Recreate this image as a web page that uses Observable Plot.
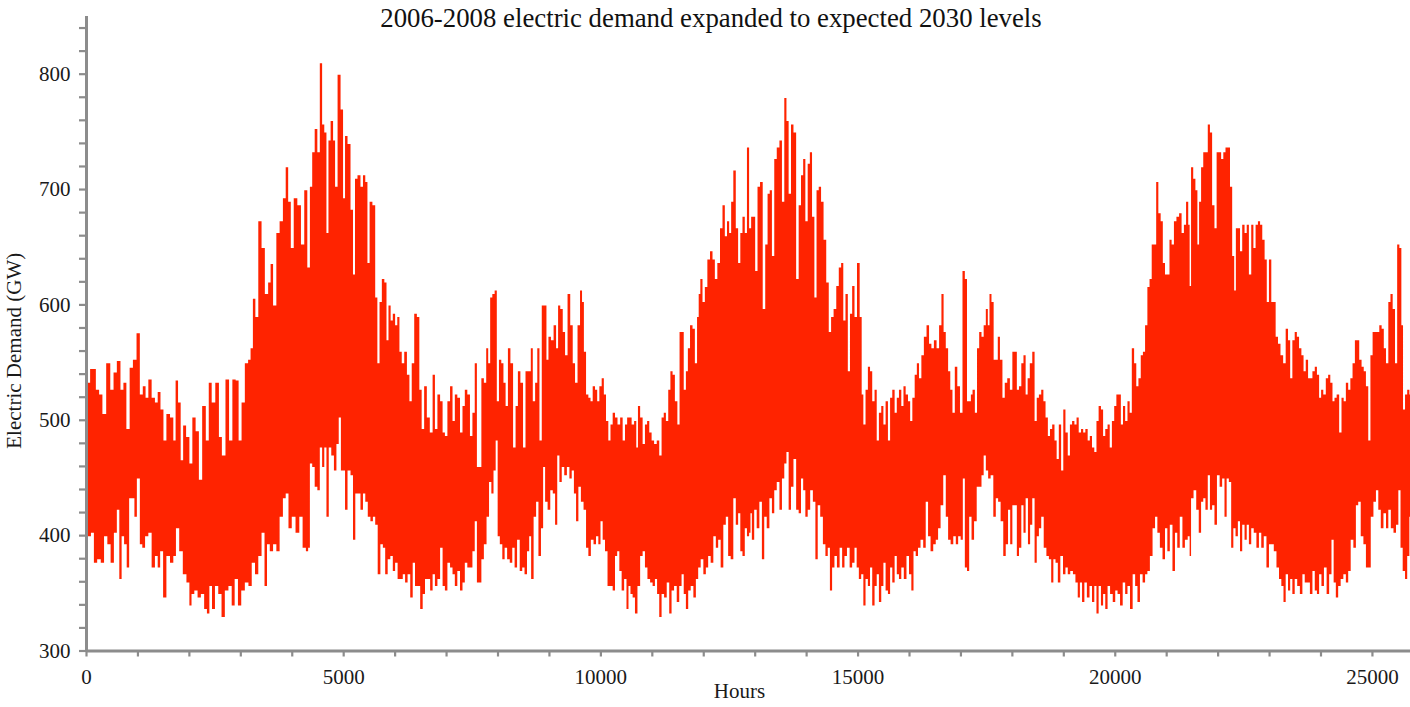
<!DOCTYPE html>
<html><head><meta charset="utf-8">
<script src="https://cdn.jsdelivr.net/npm/d3@7"></script>
<script src="https://cdn.jsdelivr.net/npm/@observablehq/plot@0.6"></script>
<style>
html,body{margin:0;padding:0;background:#fff;}
#wrap{position:relative;width:1410px;height:707px;overflow:hidden;}
#title{position:absolute;left:6px;top:5px;width:1410px;text-align:center;font-family:"Liberation Serif","Times New Roman",serif;font-size:26.8px;line-height:26px;color:#111;z-index:2;white-space:nowrap;}
#wrap svg [aria-label="x-axis tick"], #wrap svg [aria-label="y-axis tick"]{stroke:#8c8c8c;stroke-width:2.2px;}
#wrap svg [aria-label="x-axis"] line, #wrap svg [aria-label="y-axis"] line{stroke:#8c8c8c;stroke-width:2.2px;}
#wrap svg [aria-label="x-axis"] path.domain, #wrap svg [aria-label="y-axis"] path.domain{display:none;}
</style></head>
<body><div id="wrap"><div id="title"></div></div>
<script>
const titleText = "2006-2008 electric demand expanded to expected 2030 levels";
const yLabel = "Electric Demand (GW)";
const xLabel = "Hours";

// Upper envelope of the hourly demand trace: [hour, GW]
const upperEnvelope = [
[0,532],[160,544],[223,526],[287,522],[351,505],[434,549],[510,526],[561,541],[638,551],[702,526],[753,532],[817,492],[880,545],[944,552],[1021,575],[1072,522],[1136,529],[1180,519],[1244,535],[1308,519],[1372,515],[1416,524],[1480,509],[1531,482],[1595,505],[1672,502],[1723,482],[1761,534],[1818,515],[1863,465],[1914,495],[1978,485],[2042,462],[2093,502],[2169,490],[2220,448],[2297,512],[2361,482],[2412,532],[2475,515],[2552,532],[2616,485],[2667,469],[2756,535],[2807,482],[2884,535],[2935,534],[2999,482],[3050,515],[3126,549],[3177,552],[3222,562],[3267,605],[3318,589],[3381,672],[3445,649],[3509,609],[3573,619],[3605,635],[3669,599],[3732,662],[3796,672],[3860,692],[3905,719],[3956,689],[4007,649],[4070,692],[4147,686],[4211,652],[4275,699],
[4330,632],[4375,702],[4420,732],[4472,752],[4523,732],[4568,809],[4613,756],[4652,749],[4697,662],[4730,742],[4781,759],[4826,742],[4859,702],[4923,799],[4975,769],[5020,692],[5052,746],[5117,739],[5168,682],[5213,626],[5246,709],[5310,712],[5362,702],[5407,712],[5452,706],[5491,636],[5536,689],[5600,686],[5645,606],[5684,549],[5729,602],[5774,622],[5826,619],[5858,569],[5903,599],[5942,586],[5987,592],[6032,582],[6071,589],[6116,559],[6161,549],[6213,559],[6265,539],[6310,516],[6355,549],[6407,592],[6458,589],[6503,526],[6548,492],[6600,529],[6652,502],[6716,489],[6761,539],[6806,492],[6858,522],[6910,516],[6955,489],[7000,486],[7052,516],[7103,529],[7148,499],[7193,522],[7245,519],[7297,489],[7342,512],[7387,526],[7439,522],[7490,486],[7535,506],[7580,549],[7619,459],[7664,459],[7709,536],[7761,532],[7800,562],[7838,549],[7877,606],[7922,609],[7967,612],[8006,516],[8051,552],[8096,549],[8135,532],[8180,512],[8225,562],[8277,549],[8329,476],[8374,512],[8419,542],[8471,532],[8522,476],[8567,542],[8632,542],
[8663,562],[8709,516],[8754,532],[8793,562],[8838,482],[8883,599],[8935,599],[8968,552],[9013,572],[9065,569],[9116,582],[9162,562],[9194,599],[9246,596],[9291,576],[9336,556],[9388,609],[9440,582],[9485,549],[9530,532],[9582,582],[9627,612],[9660,602],[9699,559],[9744,522],[9789,519],[9828,516],[9873,529],[9919,526],[9957,516],[10003,529],[10048,536],[10087,522],[10132,499],[10177,482],[10216,496],[10262,506],[10307,502],[10359,496],[10410,502],[10456,482],[10501,496],[10540,502],[10585,502],[10630,496],[10682,499],[10714,476],[10747,512],[10799,502],[10844,479],[10889,496],[10928,499],[10973,489],[11019,482],[11070,479],[11122,482],[11167,469],[11213,502],[11251,506],[11297,499],[11342,526],[11381,542],[11426,539],[11471,516],[11523,496],[11556,576],[11601,576],[11640,526],[11685,542],[11717,562],[11769,582],[11814,579],[11860,549],[11899,589],[11924,609],[11963,622],[12008,602],[12054,615],[12106,639],[12157,646],[12203,639],[12248,622],[12300,636],[12351,666],[12397,686],[12442,659],[12481,672],[12526,662],[12559,689],[12610,716],[12655,666],[12701,636],[12740,662],[12785,676],[12830,662],[12869,736],[12914,666],
[12948,676],[12987,676],[13032,629],[13078,702],[13130,706],[13182,596],[13228,652],[13273,696],[13312,699],[13358,642],[13403,726],[13455,736],[13507,742],[13553,689],[13598,779],[13637,759],[13683,696],[13728,756],[13780,749],[13832,622],[13878,686],[13923,712],[13962,726],[14008,672],[14053,722],[14092,732],[14138,676],[14183,606],[14222,699],[14268,702],[14313,689],[14365,656],[14417,619],[14463,576],[14508,589],[14560,596],[14612,616],[14658,632],[14703,636],[14742,586],[14788,609],[14833,542],[14872,592],[14918,616],[14963,589],[15015,636],[15067,589],[15093,522],[15132,496],[15178,526],[15223,546],[15262,542],[15308,516],[15353,526],[15392,482],[15438,506],[15483,512],[15522,496],[15568,516],[15613,482],[15652,519],[15698,526],[15743,506],[15782,519],[15828,526],[15873,512],[15912,529],[15958,522],[16003,516],[16042,499],[16088,519],[16133,539],[16172,549],[16218,536],[16263,556],[16315,572],[16367,582],[16413,566],[16458,562],[16510,569],[16562,562],[16608,582],[16653,609],[16692,576],[16738,562],[16783,542],[16822,526],[16868,506],[16913,546],[16965,529],[17017,506],[17063,629],[17108,622],[17147,516],[17193,516],
[17213,522],[17258,526],[17303,506],[17342,562],[17387,576],[17432,572],[17471,582],[17516,596],[17549,582],[17581,609],[17626,602],[17665,552],[17710,552],[17742,572],[17794,552],[17839,519],[17884,532],[17936,536],[17987,526],[18032,559],[18077,559],[18116,526],[18161,529],[18206,549],[18245,556],[18290,522],[18323,536],[18374,549],[18419,559],[18464,499],[18503,519],[18548,522],[18593,526],[18632,516],[18677,502],[18722,486],[18761,492],[18806,496],[18851,482],[18890,466],[18935,496],[18980,456],[19019,509],[19064,489],[19109,469],[19148,496],[19193,499],[19238,496],[19277,502],[19322,489],[19367,492],[19406,489],[19451,492],[19496,482],[19535,486],[19580,476],[19625,472],[19664,499],[19709,512],[19754,509],[19793,486],[19838,492],[19883,496],[19922,476],[19967,499],[20012,512],[20051,522],[20096,522],[20141,496],[20180,512],[20225,499],[20270,516],[20309,506],[20354,562],[20399,549],[20438,529],[20483,536],[20528,556],[20567,559],[20612,582],[20657,615],[20696,622],[20741,652],[20786,652],[20825,706],[20870,679],[20915,672],[20954,636],[21000,626],[21045,626],[21083,656],[21128,652],[21173,672],[21225,676],[21277,679],[21322,662],[21367,669],[21406,689],[21451,669],
[21461,616],[21506,719],[21545,709],[21591,699],[21623,652],[21656,689],[21701,719],[21740,732],[21786,732],[21831,756],[21870,749],[21916,686],[21961,666],[22000,732],[22046,732],[22091,726],[22130,732],[22176,736],[22221,736],[22260,702],[22306,642],[22338,612],[22371,666],[22416,666],[22455,646],[22501,669],[22546,662],[22585,669],[22631,626],[22676,669],[22715,649],[22761,669],[22806,672],[22845,669],[22891,656],[22936,639],[22975,602],[23021,639],[23066,602],[23105,602],[23151,572],[23196,566],[23248,556],[23300,549],[23346,579],[23391,569],[23430,536],[23476,569],[23521,576],[23560,572],[23606,562],[23651,556],[23690,542],[23736,552],[23781,536],[23820,536],[23866,542],[23911,546],[23950,539],[23996,519],[24028,526],[24080,522],[24126,536],[24171,539],[24210,532],[24256,516],[24288,519],[24340,522],[24386,489],[24431,519],[24470,516],[24516,532],[24561,526],[24600,536],[24646,549],[24691,569],[24730,569],[24776,552],[24821,546],[24860,542],[24906,529],[24951,482],[24990,556],[25036,576],[25081,576],[25120,576],[25166,582],[25211,579],[25250,562],[25296,549],[25341,602],[25380,609],[25426,596],[25471,549],[25510,652],[25556,649],[25588,582],[25621,509],[25666,522],[25705,526],[25751,522]
];

// Lower envelope of the hourly demand trace: [hour, GW]
const lowerEnvelope = [
[0,352],[64,399],[128,402],[179,376],[255,379],[319,376],[383,399],[447,392],[510,376],[574,402],[625,422],[670,362],[715,399],[766,392],[817,372],[861,432],[925,432],[957,416],[1021,449],[1072,392],[1117,389],[1180,399],[1244,402],[1308,372],[1372,382],[1416,372],[1467,386],[1531,346],[1595,382],[1672,376],[1723,382],[1774,406],[1850,386],[1914,366],[1991,359],[2029,339],[2074,349],[2137,352],[2201,346],[2265,349],[2329,336],[2373,332],[2424,356],[2475,336],[2539,356],[2603,349],[2667,329],[2731,352],[2807,356],[2858,339],[2922,362],[2986,339],[3050,352],[3126,359],[3190,356],[3254,376],[3318,366],[3381,382],[3445,402],[3496,356],[3541,392],[3605,386],[3669,392],[3732,386],[3796,416],[3860,432],[3905,436],[3968,406],[4032,416],[4115,402],[4179,416],[4243,389],[4307,386],
[4330,389],[4375,462],[4420,459],[4472,442],[4523,439],[4568,476],[4613,459],[4652,476],[4697,416],[4742,476],[4794,469],[4846,456],[4891,479],[4936,502],[4975,456],[5020,456],[5052,422],[5117,456],[5168,452],[5213,396],[5258,436],[5310,436],[5362,422],[5407,436],[5452,429],[5504,416],[5555,412],[5600,416],[5645,409],[5697,366],[5749,392],[5794,389],[5839,366],[5891,379],[5942,382],[5987,369],[6032,376],[6084,362],[6136,362],[6181,366],[6226,359],[6278,366],[6329,346],[6374,376],[6419,356],[6471,356],[6523,336],[6568,349],[6613,362],[6665,362],[6716,352],[6761,366],[6806,356],[6858,362],[6910,389],[6955,356],[7000,352],[7052,376],[7103,372],[7148,366],[7193,356],[7245,369],[7297,352],[7342,359],[7387,376],[7439,372],[7490,372],[7535,386],[7580,412],[7619,359],[7664,359],[7709,379],[7761,392],[7813,416],[7858,446],[7903,436],[7942,456],[7987,482],[8019,399],[8071,392],[8116,379],[8161,389],[8213,379],[8264,376],[8310,389],[8355,372],[8406,396],[8458,369],[8503,372],[8548,366],[8600,386],[8632,399],
[8676,362],[8728,416],[8773,429],[8819,382],[8871,406],[8903,459],[8948,429],[9000,422],[9052,439],[9097,436],[9142,409],[9181,469],[9226,446],[9272,459],[9323,452],[9375,459],[9420,449],[9466,456],[9505,436],[9550,412],[9595,442],[9647,429],[9699,422],[9744,389],[9789,382],[9841,396],[9893,392],[9938,399],[9983,392],[10022,412],[10067,396],[10113,386],[10165,356],[10216,356],[10262,352],[10307,382],[10346,386],[10391,369],[10436,352],[10488,362],[10527,336],[10566,356],[10604,349],[10650,346],[10695,332],[10747,356],[10799,382],[10844,386],[10889,372],[10941,362],[10993,359],[11038,356],[11083,362],[11122,349],[11167,329],[11213,349],[11264,346],[11316,359],[11361,332],[11407,352],[11459,356],[11510,342],[11556,356],[11601,366],[11640,349],[11685,336],[11730,352],[11782,356],[11834,346],[11879,362],[11924,372],[11976,379],[12028,366],[12073,372],[12118,382],[12170,376],[12222,399],[12267,389],[12313,396],[12364,372],[12416,409],[12461,416],[12507,382],[12559,379],[12610,432],[12655,409],[12701,419],[12740,386],[12785,382],[12830,406],[12869,399],[12914,402],
[12922,419],[12968,396],[13013,422],[13065,406],[13117,429],[13163,379],[13208,416],[13260,406],[13312,432],[13358,419],[13403,439],[13455,446],[13507,422],[13553,449],[13598,462],[13637,472],[13683,422],[13728,442],[13780,466],[13832,422],[13878,419],[13923,449],[13962,439],[14008,416],[14053,422],[14105,439],[14157,429],[14203,379],[14248,426],[14300,416],[14352,392],[14398,382],[14443,389],[14482,352],[14528,372],[14573,382],[14625,372],[14677,389],[14723,372],[14768,382],[14820,389],[14872,372],[14918,376],[14963,389],[15002,372],[15048,362],[15093,366],[15132,339],[15178,362],[15223,356],[15262,372],[15308,339],[15353,356],[15392,366],[15438,342],[15483,356],[15522,376],[15568,352],[15613,349],[15652,372],[15698,359],[15743,382],[15782,366],[15828,362],[15873,372],[15925,362],[15977,382],[16023,366],[16068,352],[16107,386],[16153,382],[16198,389],[16250,396],[16302,389],[16348,429],[16393,399],[16445,386],[16497,392],[16543,396],[16588,406],[16640,426],[16692,452],[16738,416],[16783,396],[16835,392],[16887,399],[16933,392],[16978,399],[17030,396],[17063,449],[17108,372],[17147,369],[17193,416],
[17239,396],[17291,412],[17342,442],[17387,442],[17432,452],[17471,469],[17516,456],[17561,449],[17613,452],[17665,416],[17710,432],[17755,429],[17807,412],[17858,382],[17903,392],[17948,422],[17987,392],[18032,426],[18077,426],[18116,382],[18161,389],[18206,426],[18245,402],[18290,432],[18335,392],[18374,409],[18419,432],[18464,376],[18503,399],[18548,406],[18593,416],[18645,389],[18697,382],[18742,379],[18787,359],[18826,379],[18871,376],[18916,359],[18968,382],[19019,366],[19064,372],[19109,366],[19161,369],[19213,366],[19258,359],[19303,346],[19342,359],[19387,342],[19432,359],[19484,346],[19535,356],[19580,342],[19625,356],[19664,332],[19709,356],[19754,339],[19793,349],[19838,336],[19883,356],[19935,349],[19987,342],[20032,352],[20077,349],[20129,339],[20180,359],[20225,349],[20270,356],[20322,336],[20374,366],[20419,356],[20464,342],[20516,366],[20567,359],[20612,366],[20657,369],[20709,382],[20761,406],[20806,416],[20851,402],[20903,389],[20954,379],[21000,406],[21045,386],[21096,409],[21148,369],[21193,402],[21238,389],[21290,416],[21341,389],[21386,396],[21451,399],
[21461,382],[21506,432],[21558,439],[21610,422],[21656,402],[21701,429],[21740,432],[21786,422],[21831,452],[21870,422],[21916,426],[21961,409],[22013,452],[22065,442],[22111,449],[22156,416],[22195,449],[22241,446],[22286,389],[22325,406],[22371,399],[22416,412],[22455,386],[22501,409],[22546,396],[22585,409],[22631,392],[22676,406],[22728,402],[22780,389],[22826,402],[22871,389],[22923,399],[22975,372],[23021,392],[23066,392],[23118,386],[23170,372],[23216,362],[23261,356],[23300,342],[23346,366],[23391,352],[23430,362],[23476,349],[23521,362],[23573,356],[23625,349],[23671,366],[23716,359],[23768,359],[23820,349],[23866,369],[23911,352],[23950,349],[23996,366],[24041,356],[24093,372],[24145,349],[24191,366],[24236,396],[24275,359],[24321,346],[24366,356],[24418,362],[24470,366],[24516,359],[24561,369],[24613,396],[24665,389],[24711,426],[24756,429],[24808,399],[24860,392],[24906,372],[24951,372],[25003,416],[25055,429],[25101,439],[25146,422],[25198,406],[25250,419],[25296,406],[25341,422],[25393,406],[25445,402],[25491,409],[25536,439],[25575,389],[25621,369],[25666,362],[25705,382],[25751,416]
];

const yMinorTicks = d3.range(300, 841, 20);
const yLabelTicks = [300, 400, 500, 600, 700, 800];
const xMinorTicks = d3.range(0, 25001, 1000);
const xLabelTicks = [0, 5000, 10000, 15000, 20000, 25000];

const red = "#ff2300";
const axisGray = "#8c8c8c";
const ink = "#1a1a1a";
const serif = '"Liberation Serif","Times New Roman",serif';

document.getElementById("title").textContent = titleText;

const chart = Plot.plot({
  width: 1410,
  height: 707,
  marginLeft: 86,
  marginRight: 0,
  marginTop: 16,
  marginBottom: 56.5,
  style: {fontFamily: serif, fontSize: "21px", color: ink, background: "white", overflow: "visible"},
  x: {
    domain: [0, 25740],
    ticks: xMinorTicks,
    tickFormat: d => xLabelTicks.includes(d) ? String(d) : "",
    tickSize: 6,
    tickPadding: 12,
    label: null
  },
  y: {
    domain: [300, 850],
    ticks: yMinorTicks,
    tickFormat: d => yLabelTicks.includes(d) ? String(d) : "",
    tickSize: 7,
    tickPadding: 9,
    label: null
  },
  marks: [
    Plot.areaY(upperEnvelope, {x: d => d[0], y1: 300, y2: d => d[1], fill: red, curve: "step", clip: true}),
    Plot.areaY(lowerEnvelope, {x: d => d[0], y1: 300, y2: d => d[1], fill: "white", curve: "step", clip: true}),
    Plot.ruleX([0], {stroke: axisGray, strokeWidth: 3}),
    Plot.ruleY([300], {stroke: axisGray, strokeWidth: 3}),
    Plot.text([yLabel], {frameAnchor: "left", textAnchor: "middle", rotate: -90, dx: -72, dy: 17, fontSize: 21, fill: ink, fontFamily: serif}),
    Plot.text([xLabel], {frameAnchor: "bottom", dx: -9, dy: 46.5, fontSize: 21, fill: ink, fontFamily: serif})
  ]
});
document.getElementById("wrap").appendChild(chart);
</script>
</body></html>
